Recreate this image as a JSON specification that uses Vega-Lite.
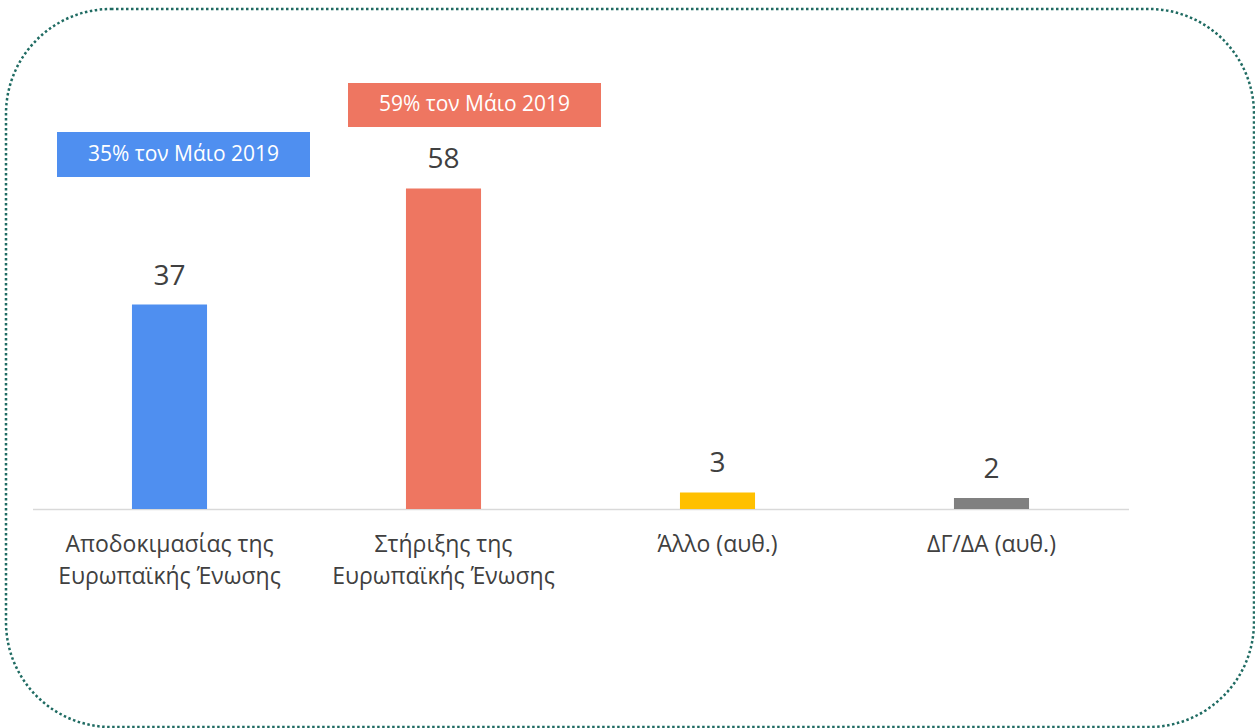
{
  "$schema": "https://vega.github.io/schema/vega-lite/v6.json",
  "width": 1248,
  "height": 718,
  "autosize": {"type": "none"},
  "padding": {"left": 6, "top": 9, "right": 1, "bottom": 1},
  "background": "white",
  "config": {
    "font": "Open Sans",
    "view": {"stroke": "#1f6b62", "strokeWidth": 2.5, "strokeDash": [2.5, 2.5], "cornerRadius": 105}
  },
  "datasets": {
    "bars": [
      {"cat": "Αποδοκιμασίας της|Ευρωπαϊκής Ένωσης", "value": 37},
      {"cat": "Στήριξης της|Ευρωπαϊκής Ένωσης", "value": 58},
      {"cat": "Άλλο (αυθ.)", "value": 3},
      {"cat": "ΔΓ/ΔΑ (αυθ.)", "value": 2}
    ],
    "note1": [{"cat": "Αποδοκιμασίας της|Ευρωπαϊκής Ένωσης", "note": "35% τον Μάιο 2019"}],
    "note2": [{"cat": "Στήριξης της|Ευρωπαϊκής Ένωσης", "note": "59% τον Μάιο 2019"}]
  },
  "layer": [
    {
      "data": {"name": "bars"},
      "mark": {"type": "bar"},
      "encoding": {
        "x": {
          "field": "cat",
          "type": "nominal",
          "sort": null,
          "scale": {
            "domain": ["Αποδοκιμασίας της|Ευρωπαϊκής Ένωσης", "Στήριξης της|Ευρωπαϊκής Ένωσης", "Άλλο (αυθ.)", "ΔΓ/ΔΑ (αυθ.)"],
            "range": [26.5, 1122.5],
            "paddingInner": 0.726,
            "paddingOuter": 0.363
          },
          "axis": {
            "title": null,
            "offset": -218,
            "labelAngle": 0,
            "labelExpr": "split(datum.label, '|')",
            "labelFontSize": 23,
            "labelLineHeight": 32,
            "labelLimit": 400,
            "labelColor": "#404040",
            "labelPadding": 24,
            "labelFont": "Open Sans",
            "ticks": false,
            "domainColor": "#d9d9d9",
            "domainWidth": 1.5,
            "grid": false
          }
        },
        "y": {
          "field": "value",
          "type": "quantitative",
          "scale": {"domain": [0, 90.48], "range": [500, 0], "nice": false, "zero": true},
          "axis": null
        },
        "color": {
          "field": "cat",
          "type": "nominal",
          "scale": {
            "domain": ["Αποδοκιμασίας της|Ευρωπαϊκής Ένωσης", "Στήριξης της|Ευρωπαϊκής Ένωσης", "Άλλο (αυθ.)", "ΔΓ/ΔΑ (αυθ.)"],
            "range": ["#4f8ff0", "#ee7661", "#ffc000", "#808080"]
          },
          "legend": null
        }
      }
    },
    {
      "data": {"name": "bars"},
      "mark": {"type": "text", "dy": -20, "baseline": "alphabetic", "fontSize": 28, "color": "#404040"},
      "encoding": {
        "x": {"field": "cat", "type": "nominal", "sort": null},
        "y": {"field": "value", "type": "quantitative"},
        "text": {"field": "value", "type": "quantitative"}
      }
    },
    {
      "data": {"name": "note1"},
      "mark": {"type": "bar", "width": 253, "xOffset": 14, "color": "#4f8ff0"},
      "encoding": {
        "x": {"field": "cat", "type": "nominal", "sort": null},
        "y": {"datum": 68.22, "type": "quantitative"},
        "y2": {"datum": 60.08}
      }
    },
    {
      "data": {"name": "note1"},
      "mark": {"type": "text", "xOffset": 14, "baseline": "middle", "fontSize": 21, "color": "white"},
      "encoding": {
        "x": {"field": "cat", "type": "nominal", "sort": null},
        "y": {"datum": 64.15, "type": "quantitative"},
        "text": {"field": "note", "type": "nominal"}
      }
    },
    {
      "data": {"name": "note2"},
      "mark": {"type": "bar", "width": 253, "xOffset": 31, "color": "#ee7661"},
      "encoding": {
        "x": {"field": "cat", "type": "nominal", "sort": null},
        "y": {"datum": 77.09, "type": "quantitative"},
        "y2": {"datum": 69.13}
      }
    },
    {
      "data": {"name": "note2"},
      "mark": {"type": "text", "xOffset": 31, "baseline": "middle", "fontSize": 21, "color": "white"},
      "encoding": {
        "x": {"field": "cat", "type": "nominal", "sort": null},
        "y": {"datum": 73.11, "type": "quantitative"},
        "text": {"field": "note", "type": "nominal"}
      }
    }
  ]
}
